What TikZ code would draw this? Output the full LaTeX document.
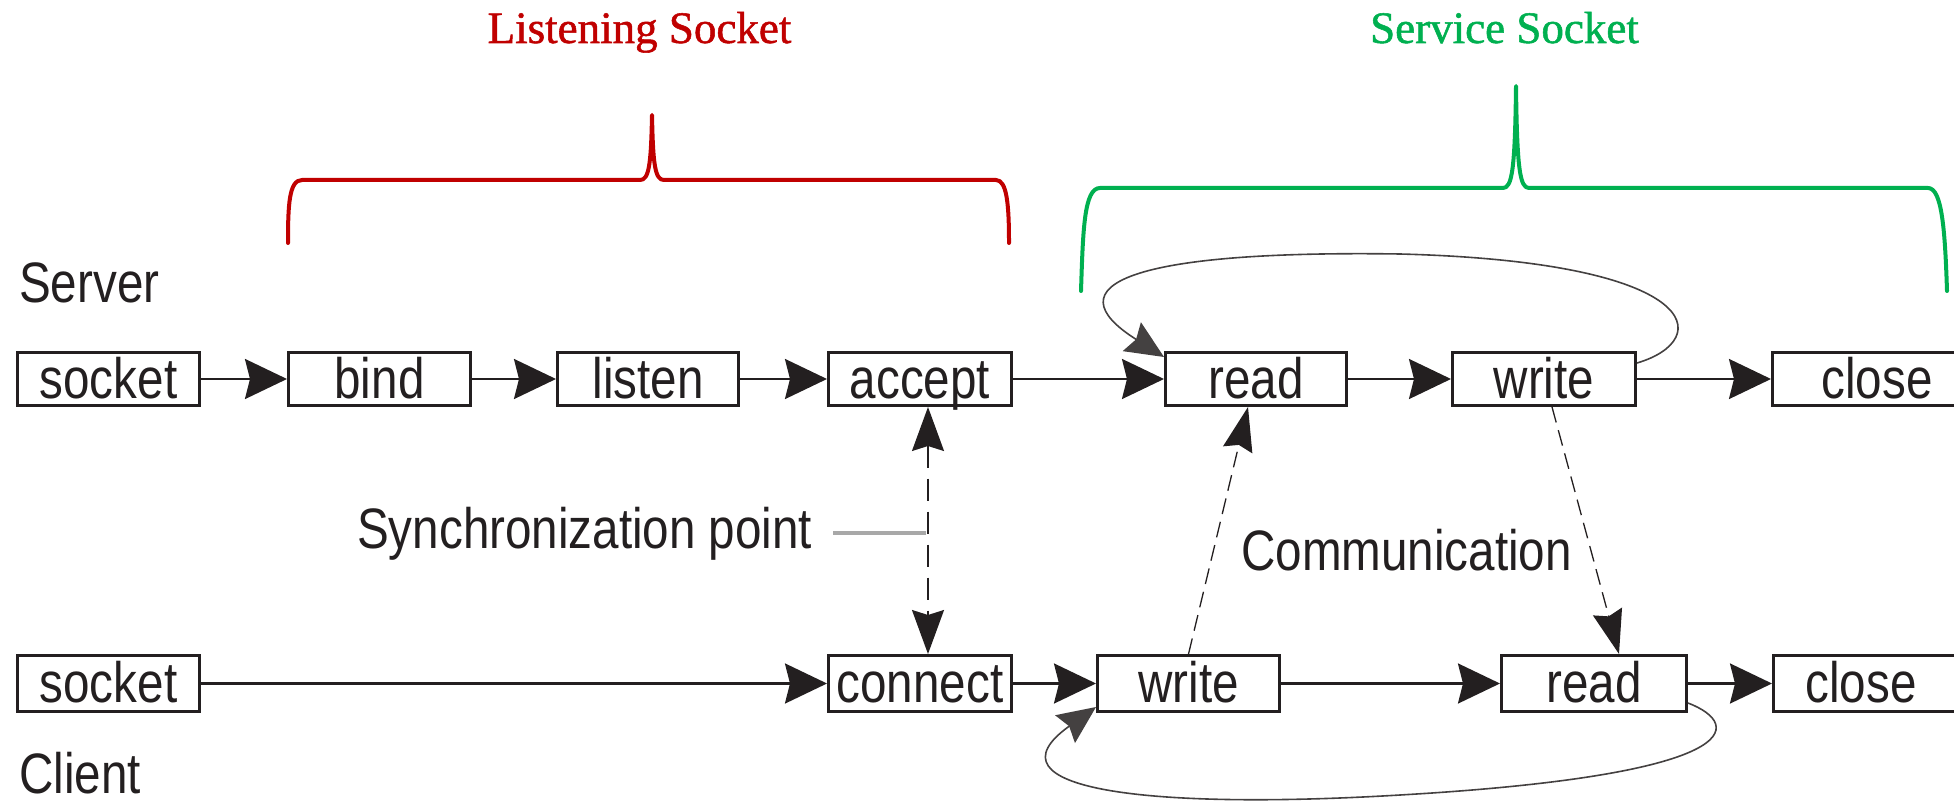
\documentclass[tikz,border=0pt]{standalone}
\usepackage{fontspec}
\setmainfont{Liberation Sans}
\newfontfamily\condsans[FakeStretch=0.835]{Liberation Sans}
\newfontfamily\headserif[FakeBold=1.2]{Liberation Serif}
\usetikzlibrary{arrows.meta,calc}
\definecolor{dk}{HTML}{231F20}
\definecolor{lred}{HTML}{C00000}
\definecolor{lgreen}{HTML}{00B050}
\definecolor{leadgray}{HTML}{A8A8A8}
\begin{document}
\begin{tikzpicture}[x=1pt,y=-1pt,
  stepbox/.style={draw=dk,line width=3pt,inner sep=0pt,minimum height=53pt,
    text height=38pt,text depth=0pt,text=dk,
    font=\condsans\fontsize{57pt}{60pt}\selectfont},
  lowbox/.style={stepbox,minimum height=56pt},
  lbl/.style={inner sep=0pt,anchor=base west,text=dk,
    font=\condsans\fontsize{57pt}{60pt}\selectfont},
  head/.style={inner sep=0pt,anchor=base,font=\headserif\fontsize{45pt}{50pt}\selectfont},
  flow/.style={draw=dk,line width=2.5pt,-{Stealth[length=42pt,width=40pt,inset=5pt]}},
  syncarr/.style={draw=dk,line width=1.6pt,dash pattern=on 22pt off 11pt,
    {Stealth[length=44pt,width=32pt,inset=5pt]}-{Stealth[length=44pt,width=32pt,inset=5pt]}},
  commarr/.style={draw=dk,line width=1.3pt,dash pattern=on 16pt off 8pt,
    -{Stealth[length=44pt,width=30pt,inset=5pt]}},
  looparr/.style={draw=dk!85,line width=1.6pt,-{Stealth[length=38pt,width=34pt,inset=5pt]}},
  brace/.style={line width=4pt,line cap=round,line join=round}
]
\useasboundingbox (0,0) rectangle (1954,802);

% headings
\node[head,text=lred] (lh) at (639.5,43) {Listening Socket};
\node[head,text=lgreen] (sh) at (1504.5,43) {Service Socket};

% braces
\draw[brace,lred] (288,243) .. controls (288,205) and (289,180) .. (302,180) -- (640,180)
  .. controls (649,180) and (651,165) .. (652,115)
  .. controls (653,165) and (655,180) .. (664,180) -- (996,180)
  .. controls (1007,180) and (1009,205) .. (1009,243);
\draw[brace,lgreen] (1081,291) .. controls (1083,230) and (1084,188) .. (1100,188) -- (1503,188)
  .. controls (1512,188) and (1515,170) .. (1516,86)
  .. controls (1517,170) and (1520,188) .. (1529,188) -- (1928,188)
  .. controls (1942,188) and (1945,230) .. (1947,291);

% labels
\node[lbl] (srv) at (19,303) {Server};
\node[lbl] (cli) at (19,793) {Client};
\node[lbl] (sync) at (357,548) {Synchronization point};
\node[lbl] (comm) at (1241,570) {Communication};

% server row
\node[stepbox,minimum width=182pt] (ts) at (108.5,379) {socket};
\node[stepbox,minimum width=182pt] (tb) at (379.5,379) {bind};
\node[stepbox,minimum width=181pt] (tl) at (648,379) {listen};
\node[stepbox,minimum width=183pt] (ta) at (920,379) {accept};
\node[stepbox,minimum width=181pt] (tr) at (1256,379) {read};
\node[stepbox,minimum width=183pt] (tw) at (1544,379) {write};
\node[stepbox,minimum width=209pt] (tc) at (1877,379) {close};

% client row
\node[lowbox,minimum width=182pt] (bs) at (108.5,683.5) {socket};
\node[lowbox,minimum width=183pt] (bc) at (920,683.5) {connect};
\node[lowbox,minimum width=182pt] (bw) at (1188.5,683.5) {write};
\node[lowbox,minimum width=185pt] (br) at (1594,683.5) {read};
\node[lowbox,minimum width=215pt] (bcl) at (1881,683.5) {close\hspace*{40pt}};

% flow arrows
\draw[flow] (ts) -- (tb);
\draw[flow] (tb) -- (tl);
\draw[flow] (tl) -- (ta);
\draw[flow] (ta) -- (tr);
\draw[flow] (tr) -- (tw);
\draw[flow] (tw) -- (tc);
\draw[flow] (bs) -- (bc);
\draw[flow] (bc) -- (bw);
\draw[flow] (bw) -- (br);
\draw[flow] (br) -- (bcl);

% synchronization
\draw[syncarr] ([xshift=8pt]ta.south) -- ([xshift=8pt]bc.north);
\draw[leadgray,line width=4pt] ([xshift=21pt]sync.east) -- ++(93,0);

% communication
\draw[commarr] (bw.north) -- ([xshift=-8pt]tr.south);
\draw[commarr] ([xshift=8pt]tw.south) -- ([xshift=25pt]br.north);

% loops
\draw[looparr] ([yshift=16pt]tw.east) .. controls (1715,340) and (1705,262) .. (1400,254)
  .. controls (1130,250) and (1050,285) .. ([yshift=-6pt]tr.north west);
\draw[looparr] ([yshift=-19.5pt]br.east) .. controls (1745,725) and (1745,775) .. (1400,795)
  .. controls (1150,810) and (980,790) .. ([yshift=6pt]bw.south west);
\end{tikzpicture}
\end{document}
